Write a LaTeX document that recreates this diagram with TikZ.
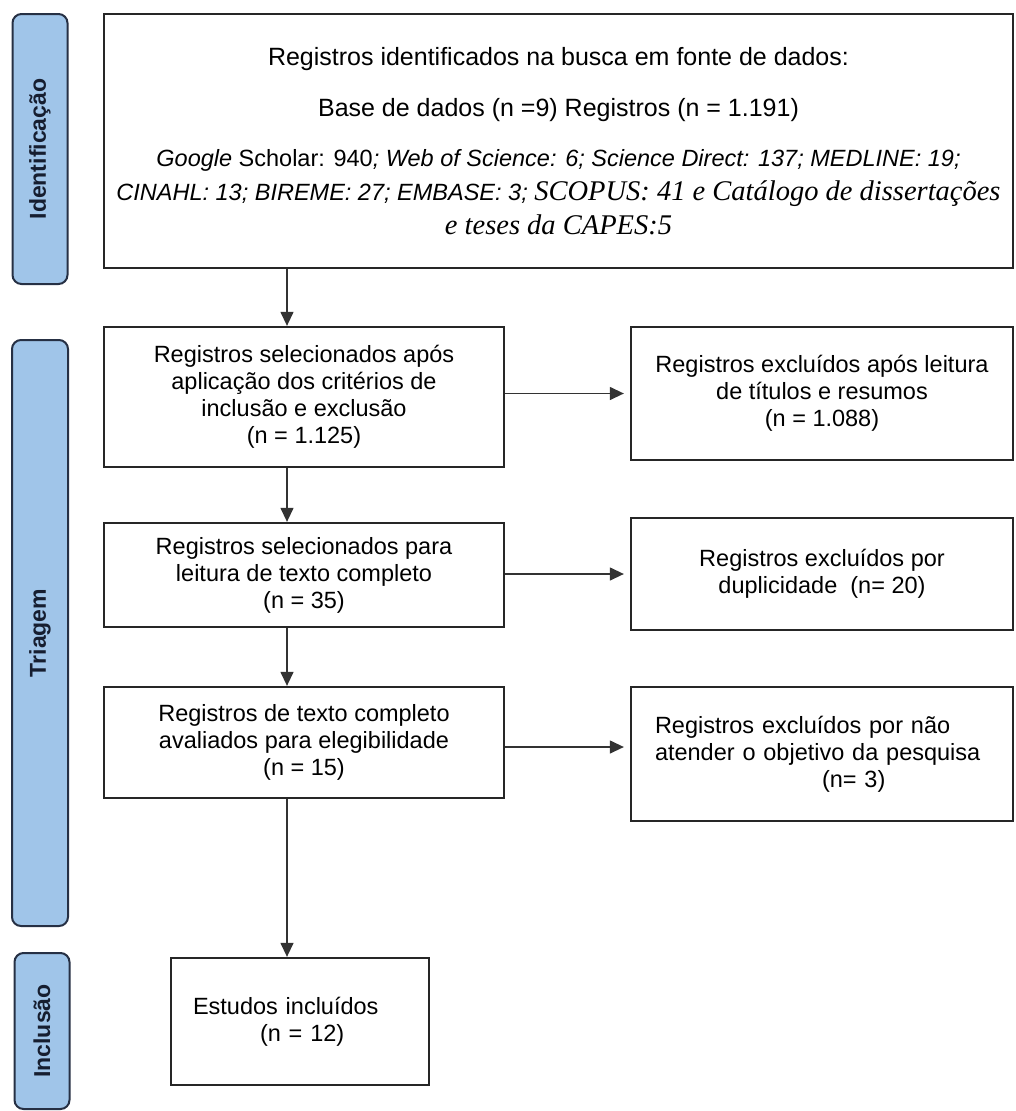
\documentclass[tikz,border=0pt]{standalone}
\usepackage{fontspec}
\setmainfont{Liberation Sans}
\newfontfamily\timesfont{Liberation Serif}
\usetikzlibrary{arrows.meta,calc}
\definecolor{phasefill}{RGB}{160,197,233}
\definecolor{phaseborder}{RGB}{38,48,68}
\definecolor{phasetext}{RGB}{22,30,48}
\newcommand\bodyfont{\fontsize{23.5}{27}\selectfont}
\newcommand\topfont{\fontsize{23.5}{34}\selectfont}
\newcommand\bigline[1]{{\fontsize{25}{34}\selectfont #1}}
\newcommand\serifit[1]{{\timesfont\itshape\fontsize{28.5}{34}\selectfont #1}}
\tikzset{
  box/.style={draw=black!85, line width=2.3pt, fill=white, align=center, inner sep=0pt, font=\bodyfont},
  phase/.style={draw=phaseborder, fill=phasefill, line width=2pt, rounded corners=9pt,
    inner sep=0pt, rotate=90, font=\fontsize{23}{27}\selectfont\bfseries, text=phasetext},
  arr/.style={draw=black!80, line width=1.3pt, -{Triangle[length=14pt,width=13pt]}}
}
\begin{document}
\begin{tikzpicture}[x=1pt,y=-1pt]
\useasboundingbox (0,0) rectangle (1016,1111);
% phases
\node[phase, minimum width=270, minimum height=55] (p1) at (40,149) {Identificação};
\node[phase, minimum width=586, minimum height=56] (p2) at (40,633) {Triagem};
\node[phase, minimum width=156, minimum height=55] (p3) at (42,1031) {Inclusão};
% identification box
\node[box, font=\topfont, minimum width=909, minimum height=254] (ident) at (558.5,141)
 {\bigline{Registros identificados na busca em fonte de dados:}\\[17pt]
  \bigline{Base de dados (n =9) Registros (n = 1.191)}\\[16pt]
  {\itshape Google} Scholar: 940{\itshape; Web of Science: 6; Science Direct: 137; MEDLINE: 19;}\\
  {\itshape CINAHL: 13; BIREME: 27; EMBASE: 3; }\serifit{SCOPUS: 41 e Catálogo de dissertações}\\
  \serifit{e teses da CAPES:5}};
% screening column
\node[box, minimum width=400, minimum height=140] (sel) at (304,397)
 {Registros selecionados após\\aplicação dos critérios de\\inclusão e exclusão\\(n = 1.125)};
\node[box, minimum width=382, minimum height=133] (exc1) at (822,393.5)
 {Registros excluídos após leitura\\de títulos e resumos\\(n = 1.088)};
\node[box, minimum width=400, minimum height=104] (full) at (304,575)
 {Registros selecionados para\\leitura de texto completo\\(n = 35)};
\node[box, minimum width=382, minimum height=112] (exc2) at (822,574)
 {Registros excluídos por\\duplicidade\ \ (n= 20)};
\node[box, minimum width=400, minimum height=111] (elig) at (304,742.5)
 {Registros de texto completo\\avaliados para elegibilidade\\(n = 15)};
\node[box, minimum width=382, minimum height=134, align=left, text width=334pt, inner xsep=24pt] (exc3) at (822,754)
 {Registros excluídos por não\\atender o objetivo da pesquisa\\\hspace*{167pt}(n= 3)};
% inclusion
\node[box, minimum width=258, minimum height=127, align=left, text width=214pt, inner xsep=22pt] (incl) at (300,1021.5)
 {Estudos incluídos\\\hspace*{67pt}(n = 12)};
% connectors
\coordinate (ax) at (287,0);
\draw[arr] (ident.south -| ax) -- (sel.north -| ax);
\draw[arr] (sel.south -| ax) -- (full.north -| ax);
\draw[arr] (full.south -| ax) -- (elig.north -| ax);
\draw[arr] (elig.south -| ax) -- (incl.north -| ax);
\draw[arr, shorten >=6pt] (sel.east |- exc1.west) -- (exc1.west);
\draw[arr, shorten >=6pt] (full.east |- exc2.west) -- (exc2.west);
\draw[arr, shorten >=6pt] ([yshift=-4.5pt]elig.east) -- ([yshift=-4.5pt]elig.east -| exc3.west);
\end{tikzpicture}
\end{document}
